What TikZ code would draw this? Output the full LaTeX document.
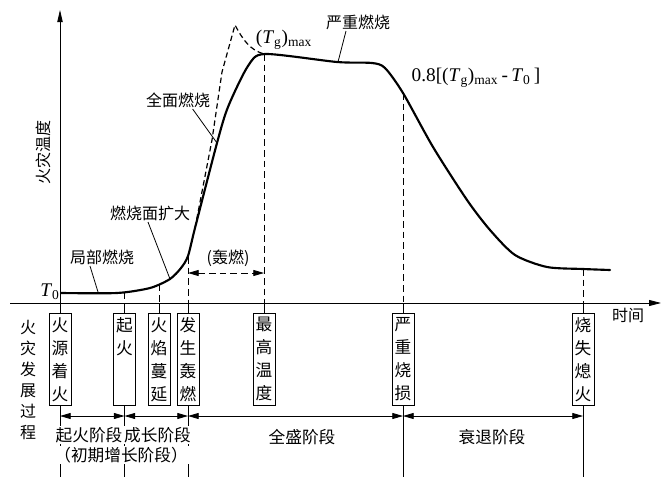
\documentclass[tikz,border=0pt]{standalone}
\usepackage{fontspec}
\setmainfont{Liberation Serif}
\newfontfamily\cjk{Noto Sans CJK SC}
\usetikzlibrary{arrows.meta}
\begin{document}
\begin{tikzpicture}[x=0.75pt,y=-0.75pt,
  thinline/.style={line width=0.6pt},
  maincurve/.style={line width=1.6pt, line join=round, line cap=round},
  dcurve/.style={line width=0.9pt, dash pattern=on 4pt off 2.5pt},
  guide/.style={line width=0.6pt, dash pattern=on 5pt off 3pt},
  evbox/.style={draw, line width=0.6pt, fill=white, minimum width=16.5pt, minimum height=69pt,
    inner xsep=1.5pt, inner ysep=2pt, anchor=north, align=center,
    font=\cjk\fontsize{12.5}{17.25}\selectfont},
  lbl/.style={font=\cjk\fontsize{12}{14}\selectfont, inner sep=1pt},
  stage/.style={font=\cjk\fontsize{12.5}{15}\selectfont, fill=white, inner xsep=2pt, inner ysep=1pt},
  mathlbl/.style={font=\fontsize{14.5}{16}\selectfont, inner sep=1pt},
  >={Triangle[length=8pt,width=4.5pt]},
]
\useasboundingbox (0,0) rectangle (664,489);

% reference coordinates
\coordinate (ytip) at (60,10);
\coordinate (xl) at (10,303);
\coordinate (xr) at (661,303);
\coordinate (bot) at (0,477);
\coordinate (arr) at (0,416);
\coordinate (hrow) at (0,273);

% points on the curve
\coordinate (p2) at (124.5,292.5);
\coordinate (p3) at (159,284.5);
\coordinate (p4) at (188,257);
\coordinate (p5) at (264,54);
\coordinate (p6) at (403,93);
\coordinate (p7) at (583,269);
\coordinate (q1) at (98,292);
\coordinate (q2) at (170,279);
\coordinate (q3) at (217,143);
\coordinate (q4) at (338,62);

% event boxes
\node[evbox] (e1) at (60,313) {火\\源\\着\\火};
\node[evbox] (e2) at (124.5,313) {起\\火\\\phantom{火}\\\phantom{火}};
\node[evbox] (e3) at (159,313) {火\\焰\\蔓\\延};
\node[evbox] (e4) at (188,313) {发\\生\\轰\\燃};
\node[evbox] (e5) at (264,313) {最\\高\\温\\度};
\node[evbox] (e6) at (403,313) {严\\重\\烧\\损};
\node[evbox] (e7) at (583,313) {烧\\失\\熄\\火};

% axes
\draw[thinline, -{Triangle[length=9pt,width=4.5pt]}] (xl) -- (xr);
\draw[thinline, -{Triangle[length=9pt,width=4pt]}] (e1.north) -- (ytip);

% ticks from axis to boxes
\foreach \b in {e2,e3,e4,e5,e6,e7}
  \draw[thinline] (\b.north |- xl) -- (\b.north);

% dashed guides from curve to axis
\foreach \p in {p2,p3,p4,p5,p6,p7}
  \draw[guide] (\p) -- (\p |- xl);

% lines below boxes
\foreach \b in {e1,e2,e4,e6,e7}
  \draw[thinline] (\b.south) -- (\b.south |- bot);

% stage arrows
\draw[thinline, <->] (e1.south |- arr) -- (e2.south |- arr);
\draw[thinline, <->] (e2.south |- arr) -- (e4.south |- arr);
\draw[thinline, <->] (e4.south |- arr) -- (e6.south |- arr);
\draw[thinline, <->] (e6.south |- arr) -- (e7.south |- arr);

% flashover arrow
\draw[guide, <->] (p4 |- hrow) -- (p5 |- hrow);

% main curve
\draw[maincurve] plot[smooth, tension=0.45] coordinates {(61,293) (117,293) (150,288) (170,279) (181,268) (188,256) (195,228) (217,143) (228,107) (248,66) (265,54) (337,62) (372,63) (385,68) (403,93) (433,147) (467,200) (490,230) (515,255) (547,267) (583,269) (610,270)};

% dashed curve (flashover)
\draw[dcurve] (195,228) -- (212,140) -- (222,72) -- (235,25) .. controls (243,40) and (250,50) .. (264,54);

% labels
\node[lbl, rotate=90] (ylab) at (43,152) {火灾温度};
\node[lbl] (tm) at (628,315) {时间};
\node[mathlbl] (t0) at (50,292) {\textit{T}\textsubscript{0}};
\node[mathlbl] (tgmax) at (284,40) {(\textit{T}\textsubscript{g})\textsubscript{max}};
\node[mathlbl, anchor=west] (pt8) at (410,78) {0.8[(\textit{T}\textsubscript{g})\textsubscript{max}\,-\,\textit{T}\textsubscript{0}\,]};
\node[lbl] (L1) at (102,257) {局部燃烧};
\node[lbl] (L2) at (150,213) {燃烧面扩大};
\node[lbl] (L3) at (178,100) {全面燃烧};
\node[lbl] (L4) at (358,22) {严重燃烧};
\node[lbl] (hr) at (228,258) {(轰燃)};

\draw[thinline] ([xshift=-9pt]L1.south) -- (q1);
\draw[thinline] ([xshift=-1.5pt]L2.south) -- (q2);
\draw[thinline] ([xshift=11pt]L3.south) -- (q3);
\draw[thinline] ([xshift=-9pt]L4.south) -- (q4);

% left column and stage names
\node[lbl, align=center, font=\cjk\fontsize{12}{15.75}\selectfont] (proc) at (28,380) {火\\灾\\发\\展\\过\\程};
\node[stage] (s1) at (89,435) {起火阶段};
\node[stage] (s2) at (157.5,435) {成长阶段};
\node[stage] (s3) at (121,455) {（初期增长阶段）};
\node[stage] (s4) at (302,437) {全盛阶段};
\node[stage] (s5) at (492,437) {衰退阶段};
\end{tikzpicture}
\end{document}
